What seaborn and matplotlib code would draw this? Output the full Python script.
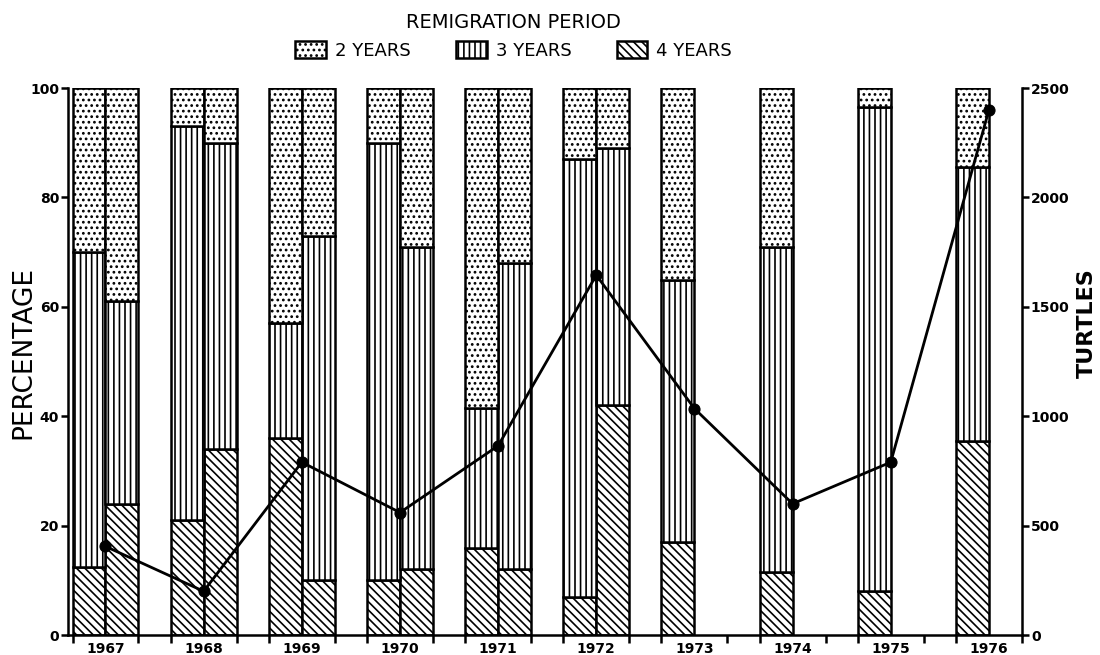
import numpy as np
import pandas as pd
import seaborn as sns
import matplotlib
matplotlib.use('Agg')
import matplotlib.pyplot as plt
from matplotlib.patches import Patch

# Data
years = [1967, 1968, 1969, 1970, 1971, 1972, 1973, 1974, 1975, 1976]
turtles = [405, 200, 790, 560, 865, 1645, 1035, 600, 790, 2400]

# one entry per bar: year and sample (0 = first bar, 1 = second bar of the year)
bar_year = [1967, 1967, 1968, 1968, 1969, 1969, 1970, 1970,
            1971, 1971, 1972, 1972, 1973, 1974, 1975, 1976]
bar_sample = [0, 1, 0, 1, 0, 1, 0, 1, 0, 1, 0, 1, 0, 0, 0, 0]
pct_4yr = [12.5, 24, 21, 34, 36, 10, 10, 12, 16, 12, 7, 42, 17, 11.5, 8, 35.5]
pct_3yr = [57.5, 37, 72, 56, 21, 63, 80, 59, 25.5, 56, 80, 47, 48, 59.5, 88.5, 50]
pct_2yr = [30, 39, 7, 10, 43, 27, 10, 29, 58.5, 32, 13, 11, 35, 29, 3.5, 14.5]

sns.set_style('ticks')
plt.rcParams['font.family'] = ['DejaVu Sans']
plt.rcParams['hatch.linewidth'] = 1.2
for k in ['text.color', 'axes.labelcolor', 'xtick.color', 'ytick.color', 'axes.edgecolor']:
    plt.rcParams[k] = 'black'

fig = plt.figure(figsize=(11, 6.55), dpi=100)
ax = fig.add_axes([0.062, 0.0305, 0.867, 0.835])

w = 0.336
left = np.array(bar_year) + (np.array(bar_sample) - 1) * w
b4 = np.array(pct_4yr)
b3 = np.array(pct_3yr)
b2 = np.array(pct_2yr)

style = dict(width=w, align='edge', facecolor='white', edgecolor='black', linewidth=1.8)
ax.bar(left, b4, hatch='\\\\\\\\', **style)
ax.bar(left, b3, bottom=b4, hatch='|||', **style)
ax.bar(left, b2, bottom=b4 + b3, hatch='...', **style)

ax.set_xlim(1966.62, 1976.33)
ax.set_ylim(0, 100)
ax.set_yticks([0, 20, 40, 60, 80, 100])
ax.set_xticks(years)
ax.set_xticklabels([str(y) for y in years], fontweight='bold', fontsize=10)
ax.set_xticks([y + d for y in years for d in (-w, w)], minor=True)
ax.tick_params(axis='x', which='major', length=0, pad=5)
ax.tick_params(axis='x', which='minor', length=6, width=1.8, direction='out')
ax.tick_params(axis='y', length=5, width=1.8, direction='out', labelsize=10, pad=1.5)
for lab in ax.get_yticklabels():
    lab.set_fontweight('bold')
ax.set_ylabel('PERCENTAGE', fontsize=19, va='center')
ax.yaxis.set_label_coords(-0.0472, 0.517)
for s in ['top', 'right']:
    ax.spines[s].set_visible(False)
for s in ['left', 'bottom']:
    ax.spines[s].set_linewidth(1.8)

# turtles on the right axis
ax2 = ax.twinx()
df = pd.DataFrame({'year': years, 'turtles': turtles})
sns.lineplot(data=df, x='year', y='turtles', ax=ax2, color='black',
             linewidth=2, marker='o', markersize=8, markeredgecolor='black')
ax2.set_ylim(0, 2500)
ax2.set_yticks([0, 500, 1000, 1500, 2000, 2500])
ax2.tick_params(axis='y', length=5, width=1.8, direction='out', labelsize=10, pad=1.5)
for lab in ax2.get_yticklabels():
    lab.set_fontweight('bold')
ax2.set_ylabel('TURTLES', fontsize=16, fontweight='bold', va='center')
ax2.yaxis.set_label_coords(1.068, 0.57)
for s in ['top', 'left', 'bottom']:
    ax2.spines[s].set_visible(False)
ax2.spines['right'].set_linewidth(1.8)

handles = [Patch(facecolor='white', edgecolor='black', linewidth=1.8, hatch='...'),
           Patch(facecolor='white', edgecolor='black', linewidth=1.8, hatch='|||'),
           Patch(facecolor='white', edgecolor='black', linewidth=1.8, hatch='\\\\\\\\')]
fig.legend(handles, ['2 YEARS', '3 YEARS', '4 YEARS'], ncol=3, frameon=False,
           loc='upper center', bbox_to_anchor=(0.467, 1.005),
           title='REMIGRATION PERIOD', title_fontsize=14, fontsize=13,
           handlelength=1.7, handleheight=1.1, columnspacing=2.5, handletextpad=0.5)

fig.savefig('out.png', dpi=100)
